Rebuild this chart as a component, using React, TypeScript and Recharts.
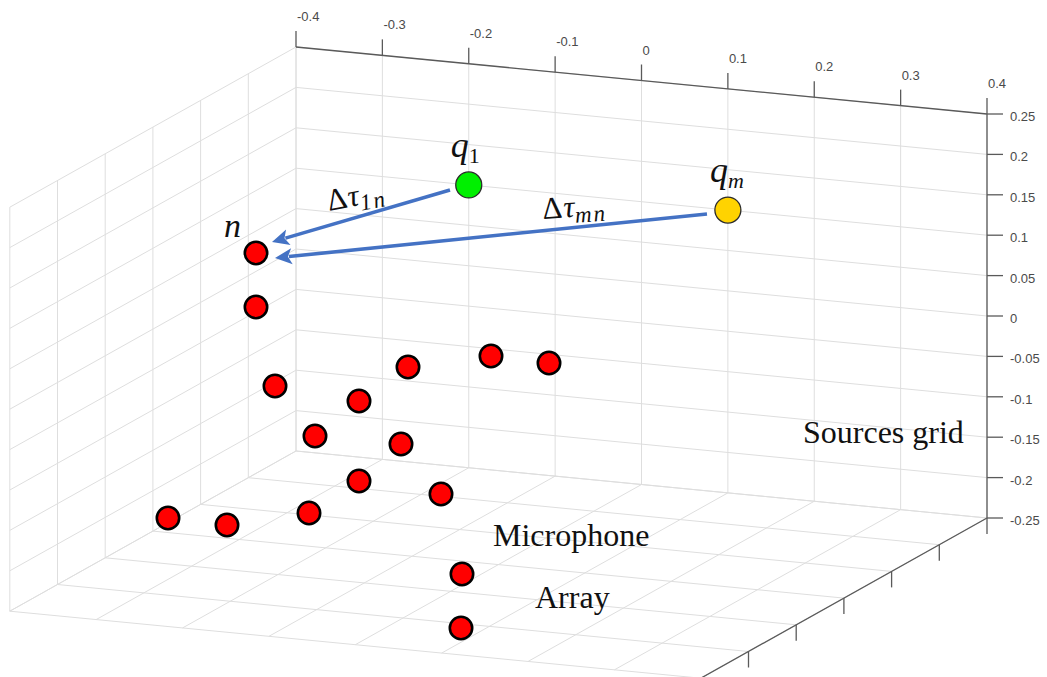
import React from 'react';
import { ScatterChart, Scatter, XAxis, YAxis, ReferenceLine } from 'recharts';

const W = 1047;
const H = 677;

// ticks of the 3-D box
const xTicks = [-0.4, -0.3, -0.2, -0.1, 0, 0.1, 0.2, 0.3, 0.4];
const xTickLabels = ['-0.4', '-0.3', '-0.2', '-0.1', '0', '0.1', '0.2', '0.3', '0.4'];
const yTicks = [0.3, 0.2, 0.1, 0, -0.1, -0.2, -0.3]; // back -> front, labels are cut off
const zTicks = [0.25, 0.2, 0.15, 0.1, 0.05, 0, -0.05, -0.1, -0.15, -0.2, -0.25];
const zTickLabels = ['0.25', '0.2', '0.15', '0.1', '0.05', '0', '-0.05', '-0.1', '-0.15', '-0.2', '-0.25'];

// sources on the back wall (x, z)
const sourceX = [-0.2, 0.1];
const sourceZ = [0.1, 0.1];

// microphone array as seen in the view plane (u, v)
const micU = [256, 256, 275, 408, 491, 549, 359, 315, 401, 359, 441, 168, 227, 309, 462, 461];
const micV = [253, 307, 386, 367, 356, 363, 401, 436, 444, 481, 494, 518, 525, 513, 574, 628];

// delay arrows, source -> microphone n (view plane)
const arrowFromU = [450, 707];
const arrowFromV = [190, 214];
const arrowToU = [272, 275];
const arrowToV = [242, 258];

// text notes (view plane anchors)
const notes = ['Sources grid', 'Microphone', 'Array'];
const noteU = [803, 493, 535];
const noteV = [443, 546, 608];
const delaySubs = ['1n', 'mn'];
const delayU = [329, 543];
const delayV = [211, 219];

// box limits
const X0 = -0.4, X1 = 0.4, Y0 = -0.3, Y1 = 0.3, Z0 = -0.25, Z1 = 0.25;

// camera: where the back-top-left corner lands and how each axis is drawn
const project = (x: number, y: number, z: number) => ({
  u: 296 + (x - X0) * 863.75 - (Y1 - y) * 477,
  v: 47 + (x - X0) * 83.75 + (Y1 - y) * 267 + (Z1 - z) * 808,
});

type P3 = [number, number, number];
const seg = (a: P3, b: P3) => [project(...a), project(...b)];

const gridSegs = [
  ...xTicks.map((x) => seg([x, Y1, Z0], [x, Y1, Z1])),
  ...zTicks.map((z) => seg([X0, Y1, z], [X1, Y1, z])),
  ...yTicks.map((y) => seg([X0, y, Z0], [X0, y, Z1])),
  ...zTicks.map((z) => seg([X0, Y0, z], [X0, Y1, z])),
  ...xTicks.map((x) => seg([x, Y0, Z0], [x, Y1, Z0])),
  ...yTicks.map((y) => seg([X0, y, Z0], [X1, y, Z0])),
];

const TICK = 16;
const axisSegs = [
  seg([X0, Y1, Z1], [X1, Y1, Z1]),
  seg([X1, Y1, Z0], [X1, Y1, Z1]),
  seg([X1, Y1, Z0], [X1, Y0, Z0]),
  ...xTicks.map((x) => {
    const p = project(x, Y1, Z1);
    return [p, { u: p.u, v: p.v - TICK }];
  }),
  ...zTicks.map((z) => {
    const p = project(X1, Y1, z);
    return [p, { u: p.u + TICK, v: p.v }];
  }),
  ...yTicks.map((y) => {
    const p = project(X1, y, Z0);
    return [p, { u: p.u, v: p.v + TICK }];
  }),
];

const xLabelData = xTicks.map((x, i) => ({ ...project(x, Y1, Z1), text: xTickLabels[i] }));
const zLabelData = zTicks.map((z, i) => ({ ...project(X1, Y1, z), text: zTickLabels[i] }));
const sourceData = sourceX.map((x, i) => ({ ...project(x, Y1, sourceZ[i]), idx: i }));
const micData = micU.map((u, i) => ({ u, v: micV[i], idx: i }));
const noteData = notes.map((text, i) => ({ u: noteU[i], v: noteV[i], text }));
const delayData = delaySubs.map((sub, i) => ({ u: delayU[i], v: delayV[i], sub, idx: i }));

const SANS = 'Liberation Sans, Arial, sans-serif';
const SERIF = 'Liberation Serif, Times New Roman, serif';
const GRID = '#dedede';
const AXIS = '#5a5a5a';
const BLUE = '#4472c4';
const sourceFill = ['#00f000', '#ffd300'];
const sourceSub = ['1', 'm'];
const delayRot = [-11, -4];

const Arrow = (props: any) => {
  const { x1, y1, x2, y2 } = props;
  const dx = x2 - x1;
  const dy = y2 - y1;
  const len = Math.sqrt(dx * dx + dy * dy);
  const ux = dx / len;
  const uy = dy / len;
  const head = 17;
  const half = 8;
  const bx = x2 - ux * head;
  const by = y2 - uy * head;
  return (
    <g>
      <line x1={x1} y1={y1} x2={bx + ux * 3} y2={by + uy * 3} stroke={BLUE} strokeWidth={3.5} />
      <polygon
        points={`${x2},${y2} ${bx - uy * half},${by + ux * half} ${bx + ux * 4},${by + uy * 4} ${bx + uy * half},${by - ux * half}`}
        fill={BLUE}
      />
    </g>
  );
};

const SourceDot = (props: any) => {
  const { cx, cy, payload } = props;
  const i = payload.idx;
  return (
    <g>
      <circle cx={cx} cy={cy} r={13} fill={sourceFill[i]} stroke="#2b2b2b" strokeWidth={1.3} />
      <text x={cx - 18} y={cy - 28} fontFamily={SERIF} fill="#111">
        <tspan fontSize={36} fontStyle="italic">q</tspan>
        <tspan fontSize={22} dy={6} fontStyle={i === 0 ? 'normal' : 'italic'}>
          {sourceSub[i]}
        </tspan>
      </text>
    </g>
  );
};

const MicDot = (props: any) => {
  const { cx, cy, payload } = props;
  return (
    <g>
      <circle cx={cx} cy={cy} r={11.2} fill="#ff0000" stroke="#000" strokeWidth={2.6} />
      {payload.idx === 0 && (
        <text x={cx - 32} y={cy - 16} fontFamily={SERIF} fontSize={34} fontStyle="italic" fill="#111">
          n
        </text>
      )}
    </g>
  );
};

const XLabel = (props: any) => (
  <text x={props.cx + 1} y={props.cy - 26} fontFamily={SANS} fontSize={13} fill="#4a4a4a">
    {props.payload.text}
  </text>
);

const ZLabel = (props: any) => (
  <text x={props.cx + 23} y={props.cy + 7} fontFamily={SANS} fontSize={13} fill="#4a4a4a">
    {props.payload.text}
  </text>
);

const Note = (props: any) => (
  <text x={props.cx} y={props.cy} fontFamily={SERIF} fontSize={32} fill="#111">
    {props.payload.text}
  </text>
);

const DelayLabel = (props: any) => {
  const { cx, cy, payload } = props;
  return (
    <text
      x={cx}
      y={cy}
      fontFamily={SERIF}
      fill="#111"
      transform={`rotate(${delayRot[payload.idx]} ${cx} ${cy})`}
    >
      <tspan fontSize={31}>Δ</tspan>
      <tspan fontSize={31} fontStyle="italic" dx={1}>τ</tspan>
      <tspan fontSize={23} dy={6} fontStyle={'italic'} letterSpacing={2}>
        {payload.sub}
      </tspan>
    </text>
  );
};

export default function App() {
  return (
    <div style={{ position: 'absolute', left: 0, top: 0, background: '#fff' }}>
      <ScatterChart width={W} height={H} margin={{ top: 0, right: 0, bottom: 0, left: 0 }}>
        <XAxis type="number" dataKey="u" domain={[0, W]} allowDataOverflow hide />
        <YAxis type="number" dataKey="v" domain={[0, H]} reversed allowDataOverflow hide />
        {gridSegs.map((s, i) => (
          <ReferenceLine
            key={`g${i}`}
            segment={[{ x: s[0].u, y: s[0].v }, { x: s[1].u, y: s[1].v }]}
            stroke={GRID}
            strokeWidth={1}
            ifOverflow="visible"
          />
        ))}
        {axisSegs.map((s, i) => (
          <ReferenceLine
            key={`a${i}`}
            segment={[{ x: s[0].u, y: s[0].v }, { x: s[1].u, y: s[1].v }]}
            stroke={AXIS}
            strokeWidth={1.3}
            ifOverflow="visible"
          />
        ))}
        {arrowFromU.map((u, i) => (
          <ReferenceLine
            key={`arrow${i}`}
            segment={[{ x: u, y: arrowFromV[i] }, { x: arrowToU[i], y: arrowToV[i] }]}
            ifOverflow="visible"
            shape={Arrow}
          />
        ))}
        <Scatter data={xLabelData} shape={XLabel} isAnimationActive={false} />
        <Scatter data={zLabelData} shape={ZLabel} isAnimationActive={false} />
        <Scatter data={micData} shape={MicDot} isAnimationActive={false} />
        <Scatter data={sourceData} shape={SourceDot} isAnimationActive={false} />
        <Scatter data={noteData} shape={Note} isAnimationActive={false} />
        <Scatter data={delayData} shape={DelayLabel} isAnimationActive={false} />
      </ScatterChart>
    </div>
  );
}
